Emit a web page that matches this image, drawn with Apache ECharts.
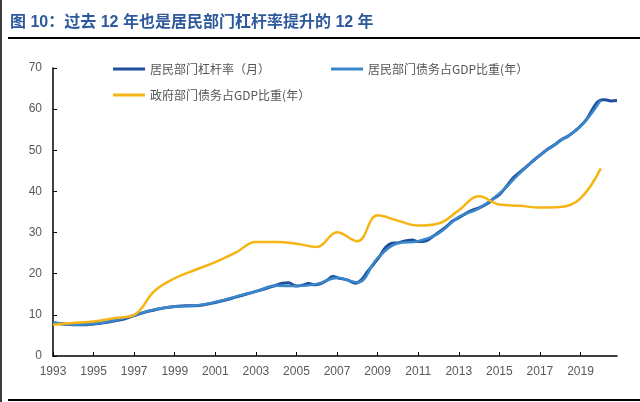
<!DOCTYPE html>
<html>
<head>
<meta charset="utf-8">
<script src="https://cdn.jsdelivr.net/npm/echarts@6/dist/echarts.min.js"></script>
<style>
html,body{margin:0;padding:0;background:#fff;}
#chart{width:640px;height:402px;}
</style>
</head>
<body>
<div id="chart"></div>
<script>
// ---- data ----
const titleText = '图 10：过去 12 年也是居民部门杠杆率提升的 12 年';
const seriesNames = ['居民部门杠杆率（月）', '居民部门债务占GDP比重(年）', '政府部门债务占GDP比重(年）'];
const xTickLabels = ['1993','1995','1997','1999','2001','2003','2005','2007','2009','2011','2013','2015','2017','2019'];
const yTicks = [0,10,20,30,40,50,60,70];

const annualYears = [1993,1994,1995,1996,1997,1998,1999,2000,2001,2002,2003,2004,2005,2006,2007,2008,2009,2010,2011,2012,2013,2014,2015,2016,2017,2018,2019,2020];
const householdAnnual = [8.2,7.6,7.8,8.6,9.9,11.3,12.0,12.2,13.1,14.4,15.7,17.1,17.0,17.5,19.0,17.9,23.8,27.4,27.9,29.8,33.8,35.9,39.5,44.4,48.8,52.3,55.8,62.2];
const governmentAnnual = [7.6,8.0,8.4,9.2,10.0,15.8,18.9,20.9,22.8,25.1,27.7,27.7,27.3,26.5,30.1,27.9,34.2,32.9,31.7,32.2,35.4,38.8,36.8,36.5,36.1,36.2,38.3,45.6];

const monthlyYears = [1993.0,1993.5,1994.0,1994.5,1995.0,1995.5,1996.0,1996.5,1997.0,1997.5,1998.0,1998.5,1999.0,1999.5,2000.0,2000.5,2001.0,2001.5,2002.0,2002.5,2003.0,2003.5,2004.0,2004.3,2004.6,2005.0,2005.3,2005.6,2005.9,2006.2,2006.5,2006.8,2007.1,2007.5,2007.9,2008.2,2008.5,2008.8,2009.1,2009.4,2009.7,2010.0,2010.4,2010.7,2011.0,2011.4,2011.7,2012.0,2012.4,2012.7,2013.0,2013.4,2013.7,2014.0,2014.4,2014.7,2015.0,2015.4,2015.7,2016.0,2016.4,2016.8,2017.0,2017.4,2017.8,2018.0,2018.4,2018.8,2019.0,2019.3,2019.6,2019.9,2020.2,2020.5,2020.8];
const householdMonthly = [8.0,7.8,7.6,7.6,7.8,8.1,8.5,9.0,9.8,10.6,11.2,11.7,12.0,12.2,12.2,12.5,13.0,13.6,14.3,15.0,15.7,16.4,17.2,17.7,17.8,17.0,17.2,17.6,17.3,17.6,18.4,19.3,18.9,18.5,17.7,18.5,20.5,22.3,24.2,26.4,27.4,27.5,28.0,28.2,27.8,28.0,29.0,30.0,31.5,32.8,33.6,34.8,35.5,36.0,37.0,38.2,39.2,41.5,43.4,44.6,46.3,48.0,48.8,50.3,51.6,52.4,53.5,55.0,55.9,57.5,60.0,62.0,62.3,62.0,62.1];

const baseYear = 1993;
const xMax = 27.8;

// ---- chart ----
const colors = ['#1F4E9A', '#3A86CB', '#F5B514'];
const toPairs = (xs, ys) => xs.map((x, i) => [x - baseYear, ys[i]]);
const tickVals = xTickLabels.map(l => Number(l) - baseYear);
const legendText = {color: '#555555', fontSize: 12, fontFamily: 'Noto Sans CJK SC'};
const mkLegend = (name, left, top) => ({
  data: [name], left: left, top: top, icon: 'rect', itemWidth: 32, itemHeight: 3,
  itemGap: 0, padding: 0, textStyle: legendText, selectedMode: false
});

const chart = echarts.init(document.getElementById('chart'), null, {renderer: 'canvas'});
chart.setOption({
  animation: false,
  backgroundColor: '#ffffff',
  color: colors,
  title: {
    text: titleText, left: 10, top: 15, padding: 0,
    textStyle: {color: '#2E5A9C', fontSize: 16, fontWeight: 'bold', fontFamily: 'Liberation Sans, Noto Sans CJK SC'}
  },
  legend: [
    mkLegend(seriesNames[0], 113, 63),
    mkLegend(seriesNames[1], 331, 63),
    mkLegend(seriesNames[2], 113, 89)
  ],
  grid: {left: 53, right: 23, top: 68, bottom: 46, containLabel: false},
  xAxis: {
    type: 'value', min: 0, max: xMax, interval: 2,
    axisLine: {show: true, lineStyle: {color: '#000', width: 1.5}},
    axisTick: {show: true, inside: true, length: 4, lineStyle: {color: '#000'}, customValues: tickVals},
    axisLabel: {
      customValues: tickVals, margin: 10, color: '#595959', fontSize: 12, fontFamily: 'Liberation Sans',
      formatter: v => String(Math.round(v + baseYear))
    },
    splitLine: {show: false}
  },
  yAxis: {
    type: 'value', min: 0, max: 70, interval: 10,
    axisLine: {show: true, lineStyle: {color: '#000', width: 1.5}},
    axisTick: {show: true, inside: true, length: 4, lineStyle: {color: '#000'}},
    axisLabel: {margin: 11, color: '#595959', fontSize: 12, fontFamily: 'Liberation Sans'},
    splitLine: {show: false}
  },
  series: [
    {name: seriesNames[0], type: 'line', data: toPairs(monthlyYears, householdMonthly), smooth: 0.4, showSymbol: false, symbol: 'none', lineStyle: {width: 3, color: colors[0]}, itemStyle: {color: colors[0]}, z: 2},
    {name: seriesNames[1], type: 'line', data: toPairs(annualYears, householdAnnual), smooth: 0.4, showSymbol: false, symbol: 'none', lineStyle: {width: 2.6, color: colors[1]}, itemStyle: {color: colors[1]}, z: 3},
    {name: seriesNames[2], type: 'line', data: toPairs(annualYears, governmentAnnual), smooth: 0.4, showSymbol: false, symbol: 'none', lineStyle: {width: 2.5, color: colors[2]}, itemStyle: {color: colors[2]}, z: 4}
  ],
  graphic: [
    {type: 'rect', left: 0, top: 0, shape: {width: 2, height: 402}, style: {fill: '#3c3c3c'}},
    {type: 'rect', left: 8, top: 37, shape: {width: 632, height: 2}, style: {fill: '#000'}},
    {type: 'rect', left: 8, top: 399, shape: {width: 632, height: 2}, style: {fill: '#000'}}
  ]
});
</script>
</body>
</html>
